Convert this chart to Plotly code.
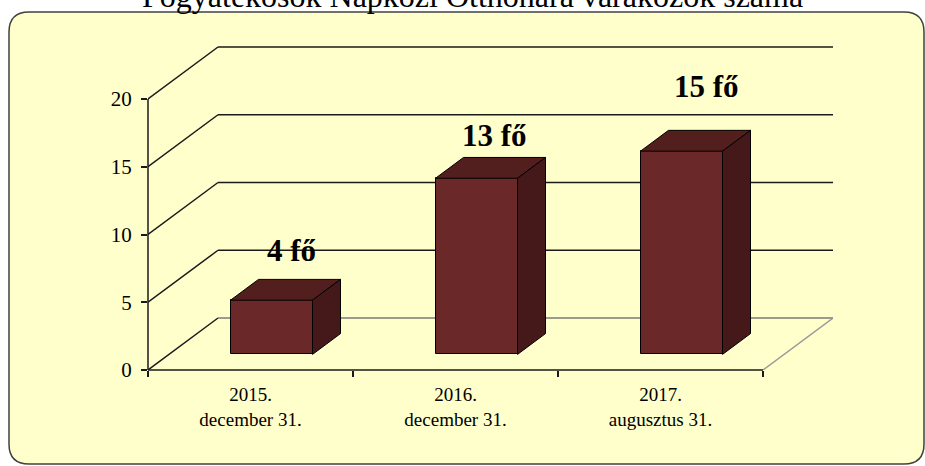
import plotly.graph_objects as go

# ---------------- data ----------------
categories = ["2015.<br>december 31.", "2016.<br>december 31.", "2017.<br>augusztus 31."]
values = [4, 13, 15]
value_labels = ["4 fő", "13 fő", "15 fő"]
y_ticks = [0, 5, 10, 15, 20]
title_text = "Fogyatékosok Napközi Otthonára várakozók száma"

# ---------------- layout geometry (pixels) ----------------
W, H = 925, 466
L, R, T, B = 148, 92, 43, 96
PX_X = 205.0          # pixels per category
PX_Y = 13.55          # pixels per value unit
DEPTH_PX = (70, 52)   # oblique depth offset (right, up)
DX = DEPTH_PX[0] / PX_X
DY = DEPTH_PX[1] / PX_Y
F1, F2 = 0.3, 0.7     # bar depth span (fraction of full depth)
BAR_W = 0.4
label_lift = [4.8, 4.3, 5.9]
label_shift = [0.2, 0.19, 0.225]

n = len(categories)
x_lo = -0.5
x_hi = x_lo + (W - L - R) / PX_X
y_hi = (H - T - B) / PX_Y

FRONT = "#6B2829"
TOP = "#531E1E"
SIDE = "#451819"
FONT = "Liberation Serif"

def paper_x(px):
    return (px - L) / (W - L - R)

def paper_y(py):
    return (H - B - py) / (H - T - B)

fig = go.Figure()

# front faces of the bars
fig.add_trace(go.Bar(
    x=[i + F1 * DX for i in range(n)],
    y=values,
    base=[F1 * DY] * n,
    width=BAR_W,
    marker=dict(color=FRONT, line=dict(color="black", width=1)),
    hoverinfo="skip",
    showlegend=False,
))

# top and side faces
ddx, ddy = (F2 - F1) * DX, (F2 - F1) * DY
for i, v in enumerate(values):
    x0 = i - BAR_W / 2 + F1 * DX
    x1 = i + BAR_W / 2 + F1 * DX
    yb = F1 * DY
    yt = v + F1 * DY
    fig.add_trace(go.Scatter(
        x=[x0, x1, x1 + ddx, x0 + ddx, x0],
        y=[yt, yt, yt + ddy, yt + ddy, yt],
        fill="toself", fillcolor=TOP, mode="lines",
        line=dict(color="black", width=1), hoverinfo="skip", showlegend=False))
    fig.add_trace(go.Scatter(
        x=[x1, x1 + ddx, x1 + ddx, x1, x1],
        y=[yb, yb + ddy, yt + ddy, yt, yb],
        fill="toself", fillcolor=SIDE, mode="lines",
        line=dict(color="black", width=1), hoverinfo="skip", showlegend=False))

shapes = []

# outer rounded frame (chart area)
fx0, fy0, fx1, fy1, rr = 9, 12, 924, 464, 20
def P(px, py):
    return f"{paper_x(px)},{paper_y(py)}"
frame_path = (
    f"M {P(fx0 + rr, fy0)} L {P(fx1 - rr, fy0)} Q {P(fx1, fy0)} {P(fx1, fy0 + rr)} "
    f"L {P(fx1, fy1 - rr)} Q {P(fx1, fy1)} {P(fx1 - rr, fy1)} "
    f"L {P(fx0 + rr, fy1)} Q {P(fx0, fy1)} {P(fx0, fy1 - rr)} "
    f"L {P(fx0, fy0 + rr)} Q {P(fx0, fy0)} {P(fx0 + rr, fy0)} Z"
)
shapes.append(dict(type="path", path=frame_path, xref="paper", yref="paper",
                   fillcolor="#FFFFCC", line=dict(color="#404040", width=1.5), layer="below"))

# walls / gridlines
for t in y_ticks:
    shapes.append(dict(type="line", xref="x", yref="y", x0=x_lo, y0=t, x1=x_lo + DX, y1=t + DY,
                       line=dict(color="#1a1a1a", width=1.5), layer="below"))
    shapes.append(dict(type="line", xref="x", yref="y", x0=x_lo + DX, y0=t + DY, x1=n - 0.5 + DX, y1=t + DY,
                       line=dict(color="#7a7a7a" if t == 0 else "#1a1a1a", width=1.5), layer="below"))

# floor edges
shapes.append(dict(type="line", xref="x", yref="y", x0=n - 0.5, y0=0, x1=n - 0.5 + DX, y1=DY,
                   line=dict(color="#9a9a9a", width=1.5), layer="below"))
shapes.append(dict(type="line", xref="x", yref="paper", x0=x_lo, y0=0, x1=n - 0.5, y1=0,
                   line=dict(color="#1a1a1a", width=1.5), layer="above"))
# value axis line
shapes.append(dict(type="line", xref="paper", yref="y", x0=0, y0=0, x1=0, y1=max(y_ticks),
                   line=dict(color="#1a1a1a", width=1.5), layer="above"))

annotations = []
for i, (v, lab) in enumerate(zip(values, value_labels)):
    annotations.append(dict(x=i + label_shift[i], y=v + label_lift[i], xref="x", yref="y",
                            text=f"<b>{lab}</b>",
                            showarrow=False, font=dict(family=FONT, size=31, color="black"),
                            xanchor="center", yanchor="middle"))
annotations.append(dict(x=paper_x(472), y=paper_y(-4), xref="paper", yref="paper", text=title_text,
                        showarrow=False, font=dict(family=FONT, size=32, color="black"),
                        xanchor="center", yanchor="middle"))

fig.update_layout(
    width=W, height=H, autosize=False,
    margin=dict(l=L, r=R, t=T, b=B, pad=0),
    paper_bgcolor="white", plot_bgcolor="rgba(0,0,0,0)",
    shapes=shapes, annotations=annotations,
    bargap=0,
    xaxis=dict(range=[x_lo, x_hi], tickvals=list(range(n)), ticktext=categories,
               ticks="", showgrid=False, zeroline=False, showline=False,
               tickfont=dict(family=FONT, size=19, color="black"), ticklabelstandoff=11,
               fixedrange=True),
    xaxis2=dict(range=[x_lo, x_hi], overlaying="x", side="bottom", anchor="y",
                tickvals=[k - 0.5 for k in range(n + 1)], ticks="outside", ticklen=6,
                tickwidth=1.5, tickcolor="#1a1a1a", showticklabels=False,
                showgrid=False, zeroline=False, showline=False),
    yaxis=dict(range=[0, y_hi], tickvals=y_ticks, ticks="outside", ticklen=6, tickwidth=1.5,
               tickcolor="#1a1a1a", showgrid=False, zeroline=False, showline=False,
               tickfont=dict(family=FONT, size=21, color="black"), ticklabelstandoff=5),
)
# dummy trace to activate xaxis2 ticks
fig.add_trace(go.Scatter(x=[x_lo], y=[0], xaxis="x2", yaxis="y", mode="markers",
                         marker=dict(opacity=0), hoverinfo="skip", showlegend=False))

fig.write_html("out.html", post_script="document.body.style.margin='0px';",
               config={"displayModeBar": False})
